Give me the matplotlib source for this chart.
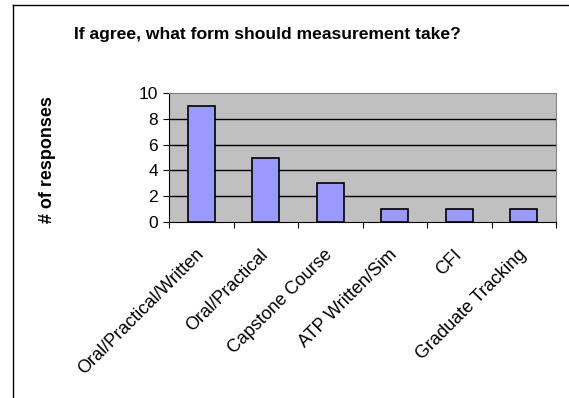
import matplotlib
matplotlib.use("Agg")
import matplotlib.pyplot as plt
from matplotlib.lines import Line2D
from matplotlib.transforms import ScaledTranslation

categories = ["Oral/Practical/Written", "Oral/Practical", "Capstone Course",
              "ATP Written/Sim", "CFI", "Graduate Tracking"]
values = [9, 5, 3, 1, 1, 1]
yticks = [0, 2, 4, 6, 8, 10]

plt.rcParams['font.family'] = ['Liberation Sans', 'DejaVu Sans']

W, H = 569, 398
fig = plt.figure(figsize=(W / 100, H / 100), dpi=100)
fig.patch.set_facecolor('white')

left, right, top, bottom = 169, 556, 93, 222
ax = fig.add_axes([left / W, 1 - bottom / H, (right - left) / W, (bottom - top) / H])
ax.set_facecolor('#C0C0C0')

x = list(range(len(categories)))
ax.bar(x, values, width=0.42, color='#9999FF', edgecolor='black', linewidth=1.2, zorder=3)

ax.set_xlim(-0.5, len(categories) - 0.5)
ax.set_ylim(0, 10)
ax.set_yticks(yticks)
ax.set_yticklabels([str(v) for v in yticks], fontsize=12.5)
for v in yticks[1:-1]:
    ax.axhline(v, color='black', linewidth=1, zorder=2)

ax.set_xticks([i - 0.5 for i in range(len(categories) + 1)])
ax.set_xticklabels([])
ax.tick_params(axis='x', length=4, direction='out', color='black')
ax.tick_params(axis='y', length=4, direction='out', pad=4)

# category labels, rotated like the reference
offset = ScaledTranslation(-6 / 100, -24 / 100, fig.dpi_scale_trans)
for i, name in enumerate(categories):
    ax.text(i, 0, name, rotation=45, ha='right', va='top', rotation_mode='anchor',
            fontsize=13, transform=ax.get_xaxis_transform() + offset)

ax.spines['left'].set_color('black')
ax.spines['bottom'].set_color('black')
ax.spines['top'].set_color('#808080')
ax.spines['right'].set_color('#808080')

fig.text(267 / W, 1 - 34 / H, "If agree, what form should measurement take?",
         ha='center', va='center', fontsize=12.6, fontweight='bold')
fig.text(48 / W, 1 - 160 / H, "# of responses", rotation=90, ha='center',
         va='center', fontsize=13, fontweight='bold')

# outer chart border (left and top visible)
fig.add_artist(Line2D([13 / W, 13 / W], [0, 1 - 5 / H], color='black', linewidth=1,
                      transform=fig.transFigure))
fig.add_artist(Line2D([13 / W, 1], [1 - 5 / H, 1 - 5 / H], color='black', linewidth=1,
                      transform=fig.transFigure))

fig.savefig("out.png", dpi=100)
